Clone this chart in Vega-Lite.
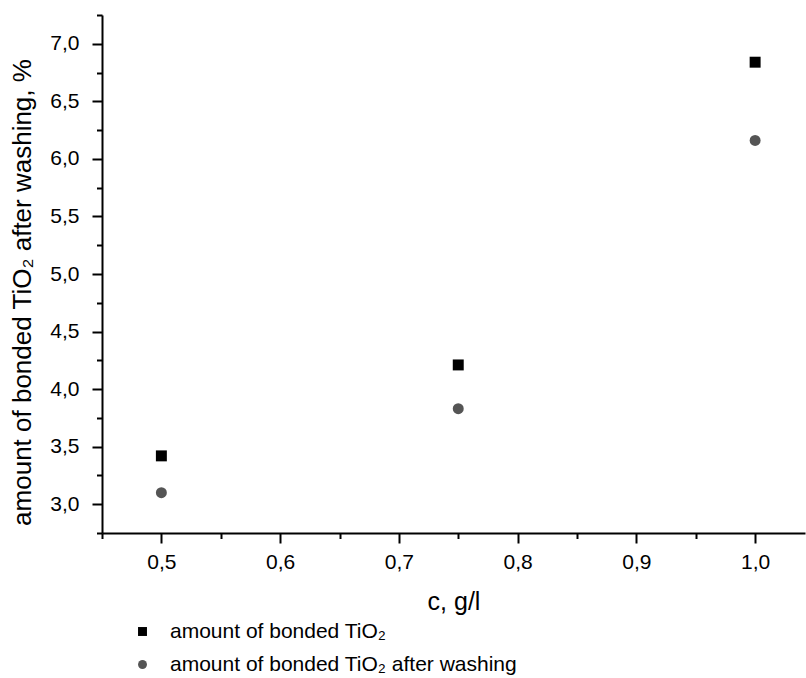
{
  "$schema": "https://vega.github.io/schema/vega-lite/v6.json",
  "width": 703,
  "height": 518,
  "autosize": "none",
  "padding": {"left": 102, "top": 15, "right": 1, "bottom": 145},
  "config": {
    "view": {"stroke": null},
    "font": "Liberation Sans"
  },
  "data": {
    "values": [
      {"c": 0.5, "value": 3.42, "series": "amount of bonded TiO₂"},
      {"c": 0.75, "value": 4.21, "series": "amount of bonded TiO₂"},
      {"c": 1.0, "value": 6.84, "series": "amount of bonded TiO₂"},
      {"c": 0.5, "value": 3.10, "series": "amount of bonded TiO₂ after washing"},
      {"c": 0.75, "value": 3.83, "series": "amount of bonded TiO₂ after washing"},
      {"c": 1.0, "value": 6.16, "series": "amount of bonded TiO₂ after washing"}
    ]
  },
  "mark": {"type": "point", "filled": true, "opacity": 1, "size": 120},
  "encoding": {
    "x": {
      "field": "c",
      "type": "quantitative",
      "scale": {"domain": [0.45, 1.042], "nice": false, "zero": false},
      "axis": {
        "title": "c, g/l",
        "values": [0.45, 0.5, 0.55, 0.6, 0.65, 0.7, 0.75, 0.8, 0.85, 0.9, 0.95, 1.0],
        "tickSize": {"condition": {"test": "abs(datum.value*10 - round(datum.value*10)) < 0.01", "value": 10}, "value": 5.5},
        "labelExpr": "abs(datum.value*10 - round(datum.value*10)) < 0.01 ? replace(format(datum.value, '.1f'), '.', ',') : ''",
        "labelFont": "Liberation Sans",
        "labelFontSize": 21,
        "labelColor": "black",
        "labelPadding": 8,
        "titleFont": "Liberation Sans",
        "titleFontSize": 25,
        "titleFontWeight": "normal",
        "titleColor": "black",
        "titlePadding": 17,
        "domainColor": "black",
        "domainWidth": 2,
        "tickColor": "black",
        "tickWidth": 2,
        "grid": false
      }
    },
    "y": {
      "field": "value",
      "type": "quantitative",
      "scale": {"domain": [2.75, 7.25], "nice": false, "zero": false},
      "axis": {
        "title": "amount of bonded TiO₂ after washing, %",
        "values": [2.75, 3.0, 3.25, 3.5, 3.75, 4.0, 4.25, 4.5, 4.75, 5.0, 5.25, 5.5, 5.75, 6.0, 6.25, 6.5, 6.75, 7.0, 7.25],
        "tickSize": {"condition": {"test": "abs(datum.value*2 - round(datum.value*2)) < 0.01", "value": 10}, "value": 5.5},
        "labelExpr": "abs(datum.value*2 - round(datum.value*2)) < 0.01 ? replace(format(datum.value, '.1f'), '.', ',') : ''",
        "labelFont": "Liberation Sans",
        "labelFontSize": 21,
        "labelColor": "black",
        "labelPadding": 13,
        "titleFont": "Liberation Sans",
        "titleFontSize": 26,
        "titleFontWeight": "normal",
        "titleColor": "black",
        "titlePadding": 14,
        "titleY": 277,
        "domainColor": "black",
        "domainWidth": 2,
        "tickColor": "black",
        "tickWidth": 2,
        "grid": false
      }
    },
    "shape": {
      "field": "series",
      "type": "nominal",
      "scale": {"domain": ["amount of bonded TiO₂", "amount of bonded TiO₂ after washing"], "range": ["square", "circle"]},
      "legend": {
        "title": null,
        "orient": "none",
        "legendX": 30,
        "legendY": 606,
        "labelFontSize": 21,
        "labelFont": "Liberation Sans",
        "labelColor": "black",
        "labelLimit": 0,
        "symbolSize": 80,
        "labelOffset": 17,
        "rowPadding": 11
      }
    },
    "color": {
      "field": "series",
      "type": "nominal",
      "scale": {"domain": ["amount of bonded TiO₂", "amount of bonded TiO₂ after washing"], "range": ["#000000", "#555555"]},
      "legend": {
        "title": null,
        "orient": "none",
        "legendX": 30,
        "legendY": 606,
        "labelFontSize": 21,
        "labelFont": "Liberation Sans",
        "labelColor": "black",
        "labelLimit": 0,
        "symbolSize": 80,
        "labelOffset": 17,
        "rowPadding": 11
      }
    }
  }
}
